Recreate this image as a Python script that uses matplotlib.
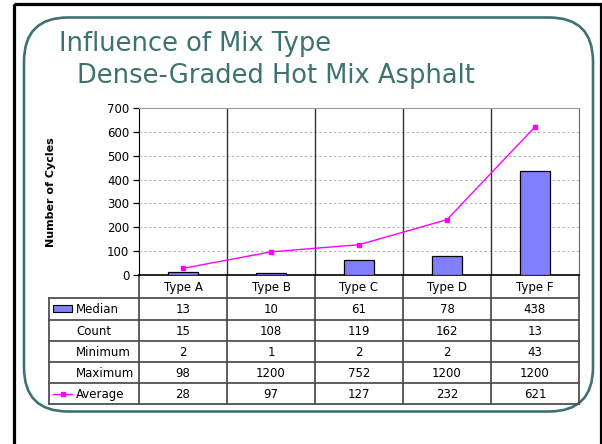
import matplotlib
matplotlib.use("Agg")
import matplotlib.pyplot as plt
from matplotlib.patches import FancyBboxPatch, Rectangle
from matplotlib.lines import Line2D
import matplotlib.transforms as mtransforms

# ---------------- data ----------------
categories = ["Type A", "Type B", "Type C", "Type D", "Type F"]
median = [13, 10, 61, 78, 438]
count = [15, 108, 119, 162, 13]
minimum = [2, 1, 2, 2, 43]
maximum = [98, 1200, 752, 1200, 1200]
average = [28, 97, 127, 232, 621]
row_labels = ["Median", "Count", "Minimum", "Maximum", "Average"]
yticks = [0, 100, 200, 300, 400, 500, 600, 700]
title_lines = ["Influence of Mix Type", "Dense-Graded Hot Mix Asphalt"]
ylabel = "Number of Cycles"

W, H = 602, 444
plt.rcParams['font.family'] = ['DejaVu Sans']
fig = plt.figure(figsize=(W / 100, H / 100), dpi=100)

# background overlay in pixel coordinates
bg = fig.add_axes([0, 0, 1, 1], zorder=0)
bg.set_xlim(0, W)
bg.set_ylim(H, 0)
bg.axis("off")

teal = "#3e7272"
# outer black frame
bg.add_patch(Rectangle((13.5, 4.5), 587.5, 460, fill=False, ec="black", lw=2.3))
# rounded teal frame
bg.add_patch(FancyBboxPatch((24, 17.5), 569, 394, boxstyle="round,pad=0,rounding_size=44",
                            fill=False, ec=teal, lw=1.9))

# titles
bg.text(59, 51, title_lines[0], fontsize=18.5, color=teal, ha="left", va="baseline")
bg.text(77, 83, title_lines[1], fontsize=18.5, color=teal, ha="left", va="baseline")

# main chart axes
L, R, T, B = 139, 579, 108, 275
ax = fig.add_axes([L / W, (H - B) / H, (R - L) / W, (B - T) / H], zorder=2)
x = list(range(len(categories)))
ax.set_xlim(-0.5, len(categories) - 0.5)
ax.set_ylim(0, 700)
ax.set_yticks(yticks)
ax.set_yticklabels([str(v) for v in yticks], fontsize=8.5)
ax.tick_params(axis="y", direction="out", length=4, width=0.9, pad=3)
ax.set_xticks([])
for v in yticks[1:-1]:
    ax.axhline(v, color="#b0b0b0", lw=0.7, ls=(0, (2.5, 2.5)), zorder=1)
for i in range(1, len(categories)):
    ax.axvline(i - 0.5, color="#333333", lw=1.0, zorder=1)
ax.spines["top"].set_color("#999999")
ax.spines["right"].set_color("#666666")
ax.spines["left"].set_color("black")
ax.spines["bottom"].set_color("black")
ax.spines["bottom"].set_linewidth(1.2)

ax.bar(x, median, width=0.34, color="#8080ff", edgecolor="black", lw=0.9, zorder=3)
ax.plot(x, average, color="#ff00ff", lw=1.0, marker="s", ms=3.5, zorder=4)

bg.text(51, 192, ylabel, rotation=90, fontsize=8, fontweight="bold",
        ha="center", va="center")

# table beneath
tr = mtransforms.blended_transform_factory(ax.transData, bg.transData)
row_y = [298, 319.5, 341, 362, 383, 404]
line_c = "#505050"
lw_t = 1.3
n = len(categories)
TL = 49
for i in range(n + 1):
    bg.add_line(Line2D([i - 0.5, i - 0.5], [B, row_y[-1]], transform=tr, color=line_c, lw=lw_t))
bg.add_line(Line2D([TL, TL], [row_y[0], row_y[-1]], color=line_c, lw=lw_t))
xr = ax.transData.transform((n - 0.5, 0))[0]
for yy in row_y:
    bg.add_line(Line2D([TL, xr], [yy, yy], color=line_c, lw=lw_t))

for i, c in enumerate(categories):
    bg.text(i, (B + row_y[0]) / 2 + 1, c, transform=tr, fontsize=8.5, ha="center", va="center")

rows = [median, count, minimum, maximum, average]
for r, (lab, vals) in enumerate(zip(row_labels, rows)):
    yc = (row_y[r] + row_y[r + 1]) / 2 + 1
    bg.text(76, yc, lab, fontsize=8.5, ha="left", va="center")
    for i, v in enumerate(vals):
        bg.text(i, yc, str(v), transform=tr, fontsize=8.5, ha="center", va="center")

# legend keys
y0 = (row_y[0] + row_y[1]) / 2
bg.add_patch(Rectangle((53, y0 - 3.5), 19, 7, fc="#8080ff", ec="black", lw=0.8))
y4 = (row_y[4] + row_y[5]) / 2
bg.add_line(Line2D([53, 62.5, 72], [y4, y4, y4], color="#ff00ff", lw=1.0,
                   marker="s", markevery=[1], ms=3.5))

fig.savefig("out.png", dpi=100)
